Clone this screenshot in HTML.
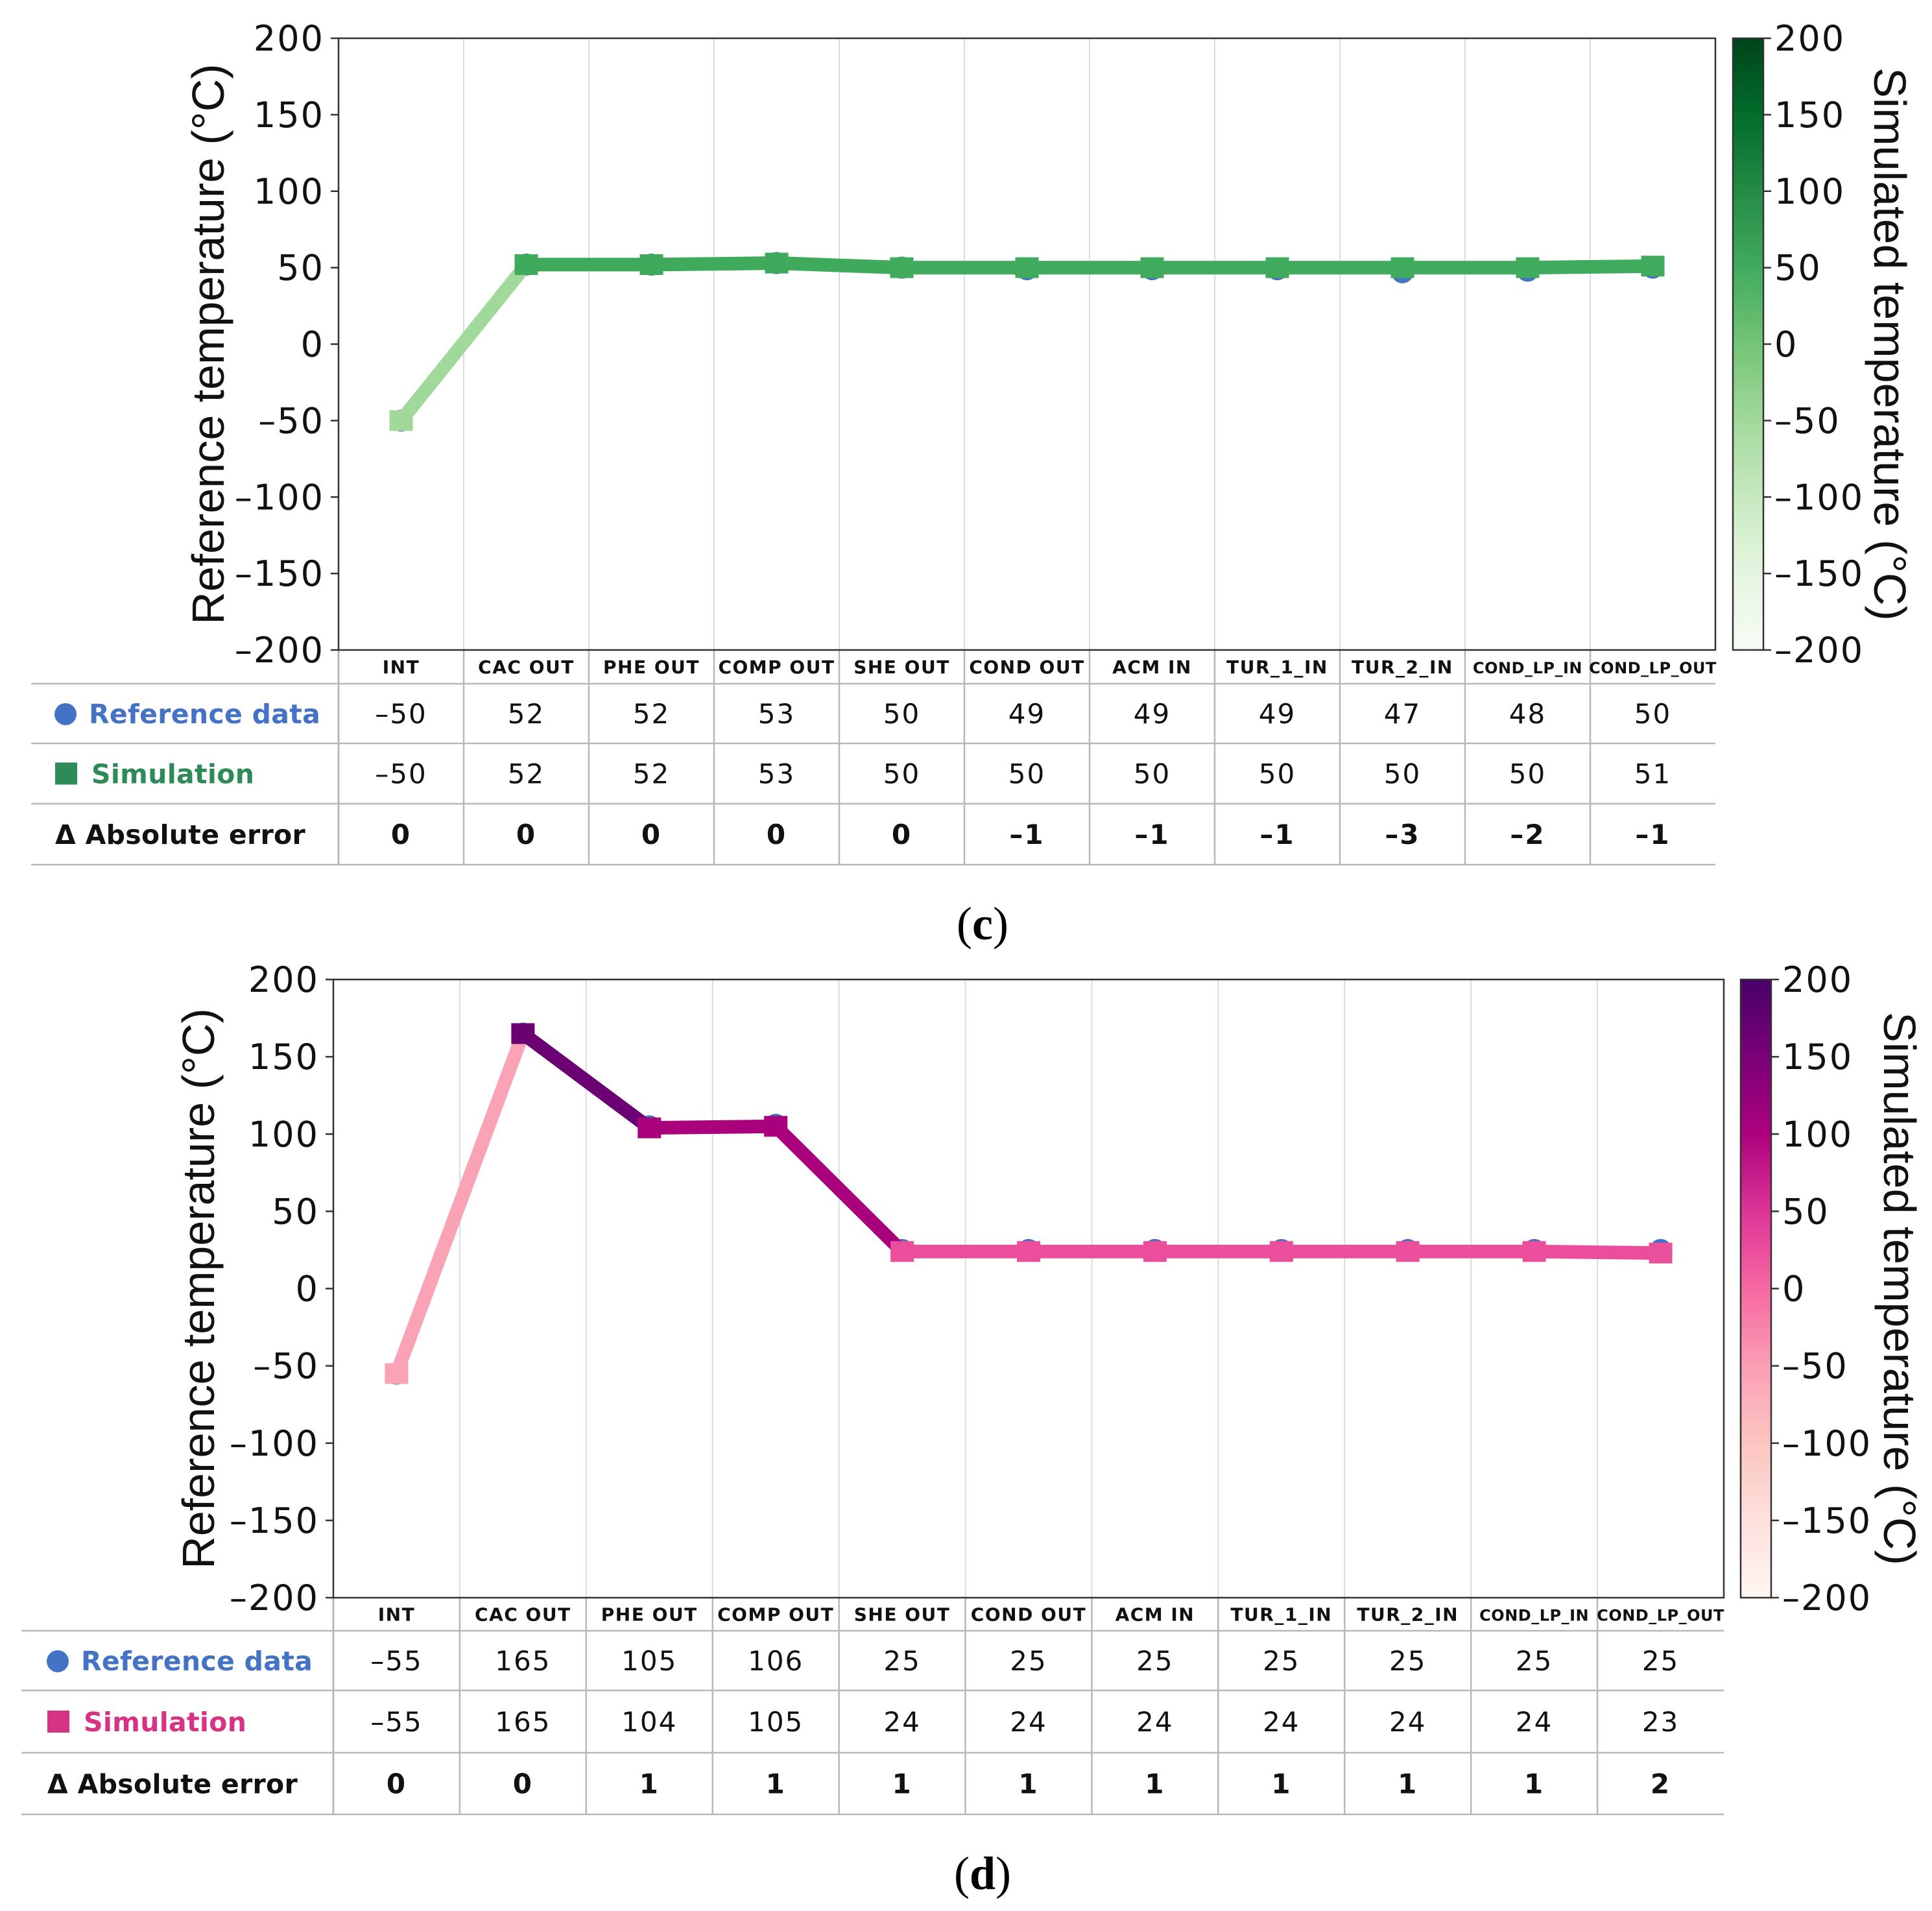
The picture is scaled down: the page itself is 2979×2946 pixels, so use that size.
<!DOCTYPE html>
<html><head><meta charset="utf-8"><style>html,body{margin:0;padding:0;background:#fff}svg{display:block}</style></head>
<body>
<svg id="fig" xmlns="http://www.w3.org/2000/svg" width="2979" height="2946" viewBox="0 0 2979 2946"></svg>
<script>
const categories = ["INT","CAC OUT","PHE OUT","COMP OUT","SHE OUT","COND OUT","ACM IN","TUR_1_IN","TUR_2_IN","COND_LP_IN","COND_LP_OUT"];
const refC = [-50,52,52,53,50,49,49,49,47,48,50];
const simC = [-50,52,52,53,50,50,50,50,50,50,51];
const errC = [0,0,0,0,0,-1,-1,-1,-3,-2,-1];
const refD = [-55,165,105,106,25,25,25,25,25,25,25];
const simD = [-55,165,104,105,24,24,24,24,24,24,23];
const errD = [0,0,1,1,1,1,1,1,1,1,2];
const yTicks = [200,150,100,50,0,-50,-100,-150,-200];
const greens = ["#f7fcf5","#e5f5e0","#c7e9c0","#a1d99b","#74c476","#41ab5d","#238b45","#006d2c","#00441b"];
const rdpu = ["#fff7f3","#fde0dd","#fcc5c0","#fa9fb5","#f768a1","#dd3497","#ae017e","#7a0177","#49006a"];

const NS="http://www.w3.org/2000/svg";
const svg=document.getElementById('fig');
function mk(tag,attrs,parent,text){const e=document.createElementNS(NS,tag);for(const k in attrs)e.setAttribute(k,attrs[k]);if(text!==undefined)e.textContent=text;(parent||svg).appendChild(e);return e;}
function hex(h){return [1,3,5].map(i=>parseInt(h.substr(i,2),16));}
function cmap(stops,t){t=Math.max(0,Math.min(1,t));const p=t*(stops.length-1);const i=Math.min(Math.floor(p),stops.length-2);const f=p-i;const a=hex(stops[i]),b=hex(stops[i+1]);return "rgb("+a.map((v,k)=>Math.round(v+(b[k]-v)*f)).join(",")+")";}
function fmt(v){return v<0?"\u2013"+Math.abs(v):String(v);}

function panel(P){
  const g=mk('g',{},svg);
  
  
  const cw=(P.x1-P.x0)/categories.length;
  const X=i=>P.x0+cw*(i+0.5);
  const Y=v=>P.y1-(v+200)/400*(P.y1-P.y0);
  for(let i=1;i<categories.length;i++){
    const x=P.x0+cw*i;
    const gl=mk('line',{x1:x,y1:P.y0,x2:x,y2:P.y1,stroke:"#dcdcdc","stroke-width":2},g);
    
    const tl=mk('line',{x1:x,y1:P.y1,x2:x,y2:P.rows[3],stroke:"#b8b8b8","stroke-width":2.5},g);
    
  }
  for(let r=0;r<4;r++){
    const hl=mk('line',{x1:P.tx,y1:P.rows[r],x2:P.x1,y2:P.rows[r],stroke:"#b8b8b8","stroke-width":2.5},g);
    
  }
  const lv=mk('line',{x1:P.x0,y1:P.y1,x2:P.x0,y2:P.rows[3],stroke:"#b8b8b8","stroke-width":3},g);
  
  const fr=mk('rect',{x:P.x0,y:P.y0,width:P.x1-P.x0,height:P.y1-P.y0,fill:"none",stroke:"#333","stroke-width":2.5},g);
  
  yTicks.forEach(v=>{
    const y=Y(v);
    mk('line',{x1:P.x0-12,y1:y,x2:P.x0,y2:y,stroke:"#333","stroke-width":2.5},g);
    const t=mk('text',{x:P.x0-22,y:y+19,"text-anchor":"end","font-family":"DejaVu Sans, sans-serif","font-size":54,"letter-spacing":2,fill:"#111"},g,fmt(v));
    
  });
  const yl=mk('text',{transform:`translate(${P.ylx},${(P.y0+P.y1)/2}) rotate(-90)`,"text-anchor":"middle","font-family":"Liberation Sans, sans-serif","font-size":70,fill:"#111"},g,"Reference temperature (\u00b0C)");
  
  P.ref.forEach((v,i)=>{
    const c=mk('circle',{cx:X(i),cy:Y(v),r:17,fill:"#4472c4"},g);
    
  });
  for(let i=0;i<P.sim.length-1;i++){
    const s=mk('line',{x1:X(i),y1:Y(P.sim[i]),x2:X(i+1),y2:Y(P.sim[i+1]),stroke:cmap(P.cm,(P.sim[i]+200)/400),"stroke-width":21},g);
    
  }
  P.sim.forEach((v,i)=>{
    const m=mk('rect',{x:X(i)-18,y:Y(v)-16,width:36,height:32,fill:cmap(P.cm,(v+200)/400)},g);
    
  });
  const gid='grad'+P.name;
  const defs=mk('defs',{},g);
  const lg=mk('linearGradient',{id:gid,x1:0,y1:1,x2:0,y2:0},defs);
  P.cm.forEach((c,i)=>mk('stop',{offset:i/(P.cm.length-1),"stop-color":c},lg));
  const cb=mk('rect',{x:P.cbx,y:P.y0,width:47,height:P.y1-P.y0,fill:`url(#${gid})`,stroke:"#333","stroke-width":2.5},g);
  
  yTicks.forEach(v=>{
    const y=Y(v);
    mk('line',{x1:P.cbx+47,y1:y,x2:P.cbx+59,y2:y,stroke:"#333","stroke-width":2.5},g);
    const t=mk('text',{x:P.cbx+64,y:y+19,"font-family":"DejaVu Sans, sans-serif","font-size":54,"letter-spacing":2,fill:"#111"},g,fmt(v));
    
  });
  const ct=mk('text',{transform:`translate(${P.ctx},${(P.y0+P.y1)/2}) rotate(90)`,"text-anchor":"middle","font-family":"Liberation Sans, sans-serif","font-size":70,fill:"#111"},g,"Simulated temperature (\u00b0C)");
  
  const hy=(P.y1+P.rows[0])/2+10;
  categories.forEach((c,i)=>{
    const t=mk('text',{x:X(i),y:hy,"text-anchor":"middle","font-family":"DejaVu Sans, sans-serif","font-weight":"bold","font-size":c.length>9?24:28,"letter-spacing":c.length>9?0.5:1.5,fill:"#111"},g,c);
    
  });
  const rc=[0,1,2].map(r=>(P.rows[r]+P.rows[r+1])/2+15);
  [[P.ref,"normal"],[P.sim,"normal"],[P.err,"bold"]].forEach((row,r)=>{
    row[0].forEach((v,i)=>{
      const t=mk('text',{x:X(i),y:rc[r],"text-anchor":"middle","font-family":"DejaVu Sans, sans-serif","font-weight":row[1],"font-size":42,"letter-spacing":2,fill:"#111"},g,fmt(v));
      
    });
  });
  mk('circle',{cx:P.lx+16,cy:rc[0]-14,r:17,fill:"#4472c4"},g);
  const l1=mk('text',{x:P.lx+52,y:rc[0],"font-family":"DejaVu Sans, sans-serif","font-weight":"bold","font-size":41,"letter-spacing":0.3,fill:"#4472c4"},g,"Reference data");
  
  mk('rect',{x:P.lx,y:rc[1]-32,width:34,height:34,fill:P.legCol},g);
  const l2=mk('text',{x:P.lx+56,y:rc[1],"font-family":"DejaVu Sans, sans-serif","font-weight":"bold","font-size":41,"letter-spacing":0.3,fill:P.legCol},g,"Simulation");
  
  const l3=mk('text',{x:P.lx,y:rc[2],"font-family":"DejaVu Sans, sans-serif","font-weight":"bold","font-size":41,"letter-spacing":0.3,fill:"#111"},g,"\u0394 Absolute error");
  
  const lab=mk('text',{x:P.labx,y:P.laby,"text-anchor":"middle","font-family":"Liberation Serif, serif","font-size":72,fill:"#000"},g);
  mk('tspan',{},lab,"(");mk('tspan',{"font-weight":"bold"},lab,P.letter);mk('tspan',{},lab,")");
  
}
panel({name:"panel-c",x0:522,x1:2645,y0:59,y1:1002,rows:[1054,1146,1239,1333],tx:48,ylx:345,cbx:2672,ctx:2890,
  ref:refC,sim:simC,err:errC,cm:greens,legCol:"#2e8b57",lx:85,labx:1515,laby:1448,letter:"c"});
panel({name:"panel-d",x0:514,x1:2658,y0:1510,y1:2463,rows:[2514,2606,2702,2797],tx:33,ylx:330,cbx:2684,ctx:2905,
  ref:refD,sim:simD,err:errD,cm:rdpu,legCol:"#d63384",lx:73,labx:1515,laby:2912,letter:"d"});
</script>
</body></html>
